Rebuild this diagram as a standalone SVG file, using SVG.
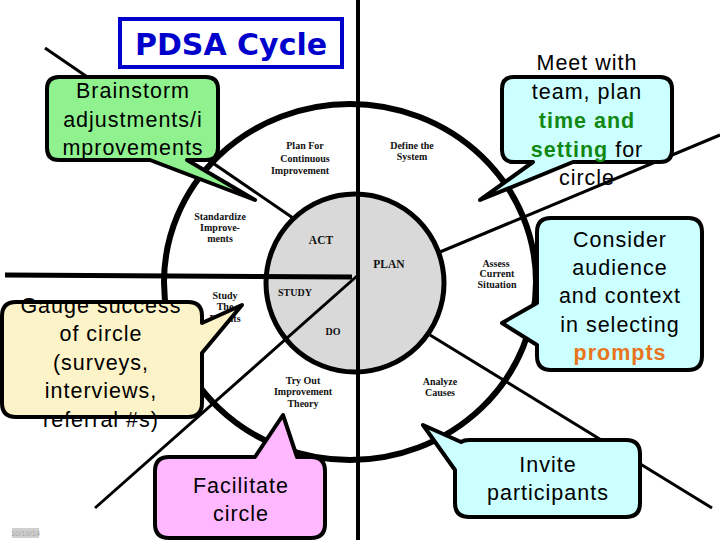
<svg xmlns="http://www.w3.org/2000/svg" width="720" height="540" viewBox="0 0 720 540">
<style>
.ln{stroke:#000;fill:none;stroke-linecap:butt}
.lab{font-family:"Liberation Serif",serif;font-weight:bold;font-size:10px;fill:#111;text-anchor:middle}
.big{font-family:"Liberation Serif",serif;font-weight:bold;font-size:11.5px;fill:#111;text-anchor:middle}
.co{stroke:#000;stroke-width:4;stroke-linejoin:round}
.ct{font-family:"Liberation Sans",Arial,sans-serif;font-size:21.5px;letter-spacing:1px;fill:#000;text-anchor:middle}
.gb{fill:#118811;font-weight:bold}
.ob{fill:#e8741c;font-weight:bold}
</style>
<rect width="720" height="540" fill="#fff"/>
<g id="wheel">
<ellipse cx="350" cy="282" rx="186" ry="178" fill="#fff" stroke="#000" stroke-width="6"/>
<circle cx="355" cy="283" r="89" fill="#d9d9d9" stroke="#000" stroke-width="5"/>
</g>
<g id="connectors">
<line class="ln" x1="45" y1="48" x2="293" y2="218" stroke-width="3"/>
<line class="ln" x1="440" y1="252" x2="720" y2="135" stroke-width="3"/>
<line class="ln" x1="430" y1="335" x2="712" y2="508" stroke-width="3"/>
<line class="ln" x1="5" y1="275" x2="352" y2="277" stroke-width="5"/>
<line class="ln" x1="357" y1="276" x2="95" y2="508" stroke-width="3"/>
<line class="ln" x1="358" y1="0" x2="358" y2="540" stroke-width="4"/>
</g>
<g id="labels">
<text class="lab" x="305" y="149">Plan For</text>
<text class="lab" x="305" y="162">Continuous</text>
<text class="lab" x="300" y="174">Improvement</text>
<text class="lab" x="412" y="149">Define the</text>
<text class="lab" x="412" y="160">System</text>
<text class="lab" x="220" y="220">Standardize</text>
<text class="lab" x="220" y="231">Improve-</text>
<text class="lab" x="220" y="242">ments</text>
<text class="lab" x="496" y="267">Assess</text>
<text class="lab" x="497" y="277">Current</text>
<text class="lab" x="497" y="288">Situation</text>
<text class="lab" x="225" y="299">Study</text>
<text class="lab" x="225" y="310">The</text>
<text class="lab" x="225" y="322">Results</text>
<text class="lab" x="303" y="384">Try Out</text>
<text class="lab" x="303" y="395">Improvement</text>
<text class="lab" x="303" y="407">Theory</text>
<text class="lab" x="440" y="385">Analyze</text>
<text class="lab" x="440" y="396">Causes</text>
<text class="big" x="321" y="244">ACT</text>
<text class="big" x="389" y="268">PLAN</text>
<text class="lab" x="295" y="296" font-size="8.5">STUDY</text>
<text class="lab" x="333" y="335" font-size="8.5">DO</text>
</g>
<g id="title">
<rect x="120" y="19" width="222" height="48" fill="#fff" stroke="#0000cc" stroke-width="4"/>
<text x="231" y="55" font-family="'DejaVu Sans',Verdana,sans-serif" font-weight="bold" font-size="30px" fill="#0000cc" text-anchor="middle">PDSA Cycle</text>
</g>
<g id="brainstorm">
<path class="co" fill="#8ff28f" d="M59,77 H206 Q218,77 218,89 V148 Q218,160 206,160 H187 L255,200 L150,160 H59 Q47,160 47,148 V89 Q47,77 59,77 Z"/>
<text class="ct" x="133" y="98">Brainstorm</text>
<text class="ct" x="133" y="127">adjustments/i</text>
<text class="ct" x="133" y="155">mprovements</text>
</g>
<g id="meet">
<path class="co" fill="#ccffff" d="M514,77 H660 Q672,77 672,89 V150 Q672,162 660,162 H573 L480,200 L533,162 H514 Q502,162 502,150 V89 Q502,77 514,77 Z"/>
<text class="ct" x="587" y="70">Meet with</text>
<text class="ct" x="587" y="99">team, plan</text>
<text class="ct gb" x="587" y="128">time and</text>
<text class="ct" x="587" y="157"><tspan class="gb">setting</tspan> for</text>
<text class="ct" x="587" y="185">circle</text>
</g>
<g id="consider">
<path class="co" fill="#ccffff" d="M551,218 H688 Q702,218 702,232 V356 Q702,370 688,370 H551 Q537,370 537,356 V345 L502,323 L537,303 V232 Q537,218 551,218 Z"/>
<text class="ct" x="620" y="247">Consider</text>
<text class="ct" x="620" y="275">audience</text>
<text class="ct" x="620" y="303">and context</text>
<text class="ct" x="620" y="332">in selecting</text>
<text class="ct ob" x="620" y="360">prompts</text>
</g>
<g id="gauge">
<path class="co" fill="#fdf3c8" d="M16,302 H188 Q202,302 202,316 V323 L242,305 L202,353 V403 Q202,417 188,417 H16 Q2,417 2,403 V316 Q2,302 16,302 Z"/>
<text class="ct" x="101" y="313">Gauge success</text>
<text class="ct" x="101" y="341">of circle</text>
<text class="ct" x="101" y="370">(surveys,</text>
<text class="ct" x="101" y="398">interviews,</text>
<text class="ct" x="101" y="427">referral #s)</text>
</g>
<g id="facilitate">
<path class="co" fill="#ffb8ff" d="M169,457 H255 L283,415 L297,457 H311 Q325,457 325,471 V524 Q325,538 311,538 H169 Q155,538 155,524 V471 Q155,457 169,457 Z"/>
<text class="ct" x="241" y="493">Facilitate</text>
<text class="ct" x="241" y="521">circle</text>
</g>
<g id="invite">
<path class="co" fill="#ccffff" d="M469,440 H626 Q640,440 640,454 V503 Q640,517 626,517 H469 Q455,517 455,503 V470 L423,425 L461,442 Q464,440 469,440 Z"/>
<text class="ct" x="548" y="472">Invite</text>
<text class="ct" x="548" y="500">participants</text>
</g>
<g id="date">
<rect x="12" y="528" width="27" height="10" fill="#cfcfcf"/>
<text x="25.5" y="536" font-family="'Liberation Sans',sans-serif" font-size="7.5px" fill="#a8a8a8" text-anchor="middle">10/10/14</text>
</g>
</svg>
